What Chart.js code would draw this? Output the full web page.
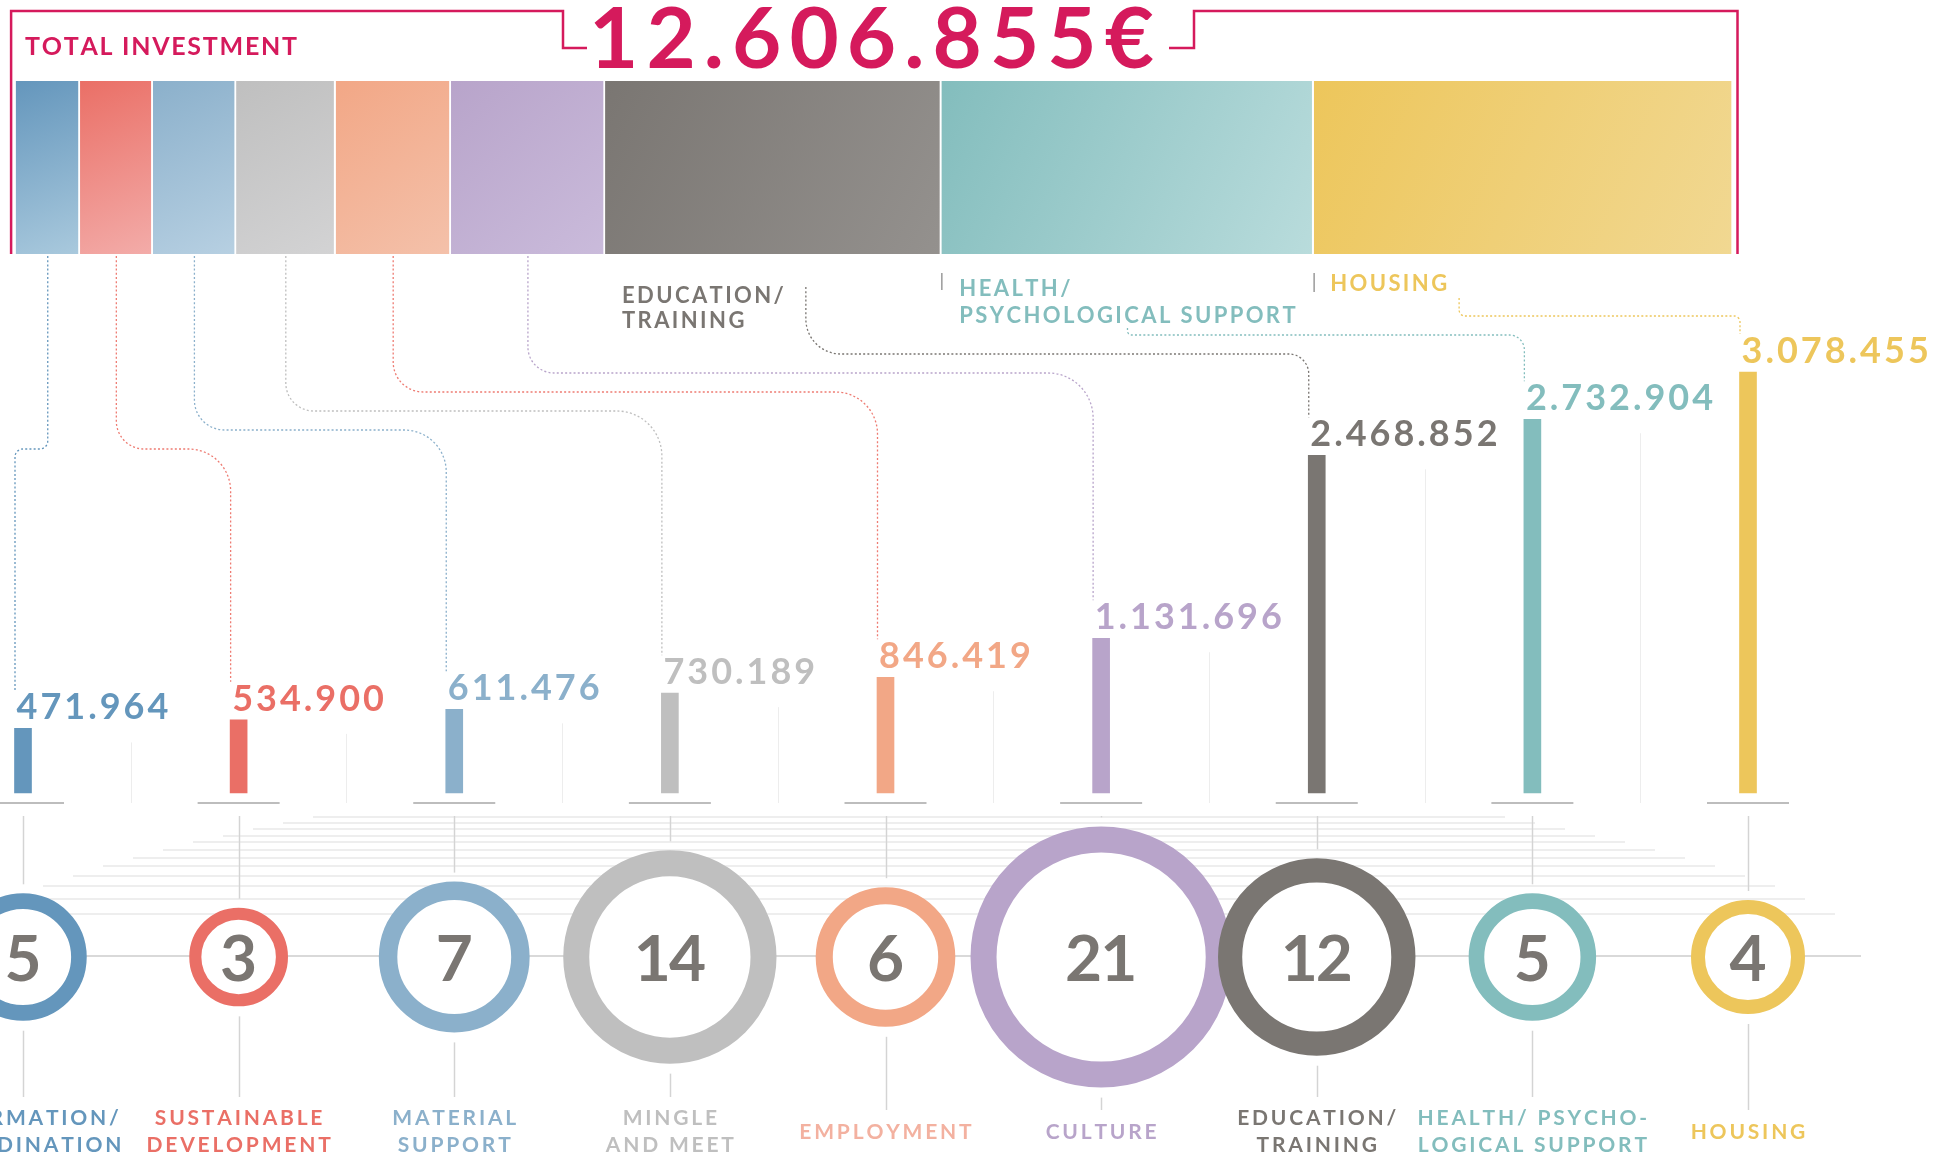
<!DOCTYPE html>
<html>
<head>
<meta charset="utf-8">
<title>Total investment</title>
<script src="https://cdn.jsdelivr.net/npm/chart.js@4.4.1/dist/chart.umd.min.js"></script>
<style>
  html, body { margin: 0; padding: 0; background: #fff; overflow: hidden; }
  #wrap { position: relative; width: 1959px; height: 1159px; }
  canvas { position: absolute; left: 0; top: 0; }
</style>
</head>
<body>
<div id="wrap">
  <canvas id="mainChart" width="1959" height="1159"></canvas>
  <canvas id="topChart" width="1959" height="1159"></canvas>
</div>
<script>
// data
const categories = [
  ["INFORMATION/", "COORDINATION"],
  ["SUSTAINABLE", "DEVELOPMENT"],
  ["MATERIAL", "SUPPORT"],
  ["MINGLE", "AND MEET"],
  ["EMPLOYMENT"],
  ["CULTURE"],
  ["EDUCATION/", "TRAINING"],
  ["HEALTH/ PSYCHO-", "LOGICAL SUPPORT"],
  ["HOUSING"],
];
const investment = [471964, 534900, 611476, 730189, 846419, 1131696, 2468852, 2732904, 3078455];
const projects = [5, 3, 7, 14, 6, 21, 12, 5, 4];
const segmentLabels = [null, null, null, null, null, null,
  ["EDUCATION/", "TRAINING"], ["HEALTH/", "PSYCHOLOGICAL SUPPORT"], ["HOUSING"]];
const totalTitle = "TOTAL INVESTMENT";

// styles
const colors = ["#6496BC", "#EA6F66", "#8BB0CB", "#BFBFBF", "#F2A786", "#B8A4CA", "#7A7672", "#83BDBD", "#EDC65B"];
const lightColors = ["#A9C9DD", "#F3ACA9", "#B7D0E2", "#D3D3D4", "#F4C1AA", "#CABBDB", "#94918E", "#B9DCDC", "#F1D892"];
const labelColors = ["#6496BC", "#EA6F66", "#8BB0CB", "#BFBFBF", "#F3B1A0", "#B8A4CA", "#7A7672", "#83BDBD", "#EDC65B"];
const linkColors = ["#6496BC", "#EE7B72", "#8BB0CB", "#BFBFBF", "#EE7B72", "#B8A4CA", "#7A7672", "#83BDBD", "#EDC65B"];
const PINK = "#D51A5C";
const INK = "#7A7672";
const FONT = "Lato, 'Open Sans', sans-serif";

// layout
const W = 1959, H = 1159;
const BAR_BASE = 793;
const EURO_PER_PX = 7312;
const RING_ROW = 957;
const AXIS_LEFT = 23, AXIS_RIGHT = 1748;
const TOP_BOX = { left: 15.6, right: 1733, top: 81, bottom: 254 };
const floorRows = [817, 823, 829, 836, 842, 850, 858, 866, 876, 886, 899, 914];
const links = [
  { level: 449, r1: 8, r2: 8 },
  { level: 449, r1: 28, r2: 42 },
  { level: 430, r1: 30, r2: 42 },
  { level: 411, r1: 28, r2: 45 },
  { level: 392, r1: 30, r2: 42 },
  { level: 373, r1: 26, r2: 45 },
  { level: 354, r1: 35, r2: 20 },
  { level: 335, r1: 4, r2: 15 },
  { level: 316, r1: 6, r2: 6 },
];

const fmt = (v) => String(v).replace(/\B(?=(\d{3})+(?!\d))/g, ".");
const total = investment.reduce((a, b) => a + b, 0);
const ringOuter = (n) => 28.5 * Math.sqrt(n);
const ringWidth = (n) => Math.min(0.245 * ringOuter(n), 26);

function spacedWidth(ctx, text, spacing) {
  const chars = [...text];
  return chars.reduce((s, c) => s + ctx.measureText(c).width, 0) + spacing * (chars.length - 1);
}

function spaced(ctx, text, x, y, spacing, align) {
  const chars = [...text];
  const total = spacedWidth(ctx, text, spacing);
  let cx = align === "center" ? x - total / 2 : align === "right" ? x - total : x;
  ctx.textAlign = "left";
  chars.forEach((c) => {
    ctx.fillText(c, cx, y);
    cx += ctx.measureText(c).width + spacing;
  });
  return total;
}

function fitted(ctx, text, x, y, width) {
  const n = [...text].length;
  const natural = spacedWidth(ctx, text, 0);
  const spacing = (width - natural) / (n - 1);
  spaced(ctx, text, x, y, spacing, "left");
}

function line(ctx, x1, y1, x2, y2) {
  ctx.beginPath();
  ctx.moveTo(x1, y1);
  ctx.lineTo(x2, y2);
  ctx.stroke();
}

const mainDecor = {
  id: "mainDecor",
  beforeDatasetsDraw(chart) {
    const ctx = chart.ctx;
    const bars = chart.getDatasetMeta(0).data;
    const rings = chart.getDatasetMeta(1).data;
    ctx.save();
    // floor lines
    ctx.strokeStyle = "#E9E9E9";
    ctx.lineWidth = 1.5;
    floorRows.forEach((y, k) => line(ctx, 313 - 30 * k, y, 1505 + 30 * k, y));
    ctx.strokeStyle = "#D9D9D9";
    ctx.lineWidth = 2;
    line(ctx, -46, RING_ROW - 1, 1861, RING_ROW - 1);
    // faint separators between bars
    ctx.strokeStyle = "#EDEDED";
    ctx.lineWidth = 1;
    for (let i = 0; i < bars.length - 1; i++) {
      const x = Math.round((bars[i].x + bars[i + 1].x) / 2) + 0.5;
      line(ctx, x, bars[i].y + 14, x, BAR_BASE + 10);
    }
    // base segments
    ctx.strokeStyle = "#BDBDBD";
    ctx.lineWidth = 2;
    bars.forEach((b) => line(ctx, b.x - 41, BAR_BASE + 10, b.x + 41, BAR_BASE + 10));
    // stems to the rings and labels
    ctx.strokeStyle = "#D4D4D4";
    ctx.lineWidth = 1.5;
    rings.forEach((r, i) => {
      const R = r.options.radius + r.options.borderWidth / 2;
      const x = Math.round(r.x) + 0.5;
      line(ctx, x, BAR_BASE + 23, x, r.y - R - 9);
      line(ctx, x, r.y + R + 10, x, categories[i].length > 1 ? 1097 : 1110);
    });
    ctx.restore();
  },
  afterDatasetsDraw(chart) {
    const ctx = chart.ctx;
    const bars = chart.getDatasetMeta(0).data;
    const rings = chart.getDatasetMeta(1).data;
    ctx.save();
    ctx.textBaseline = "alphabetic";
    // ring numbers
    ctx.font = "bold 64px " + FONT;
    ctx.fillStyle = INK;
    rings.forEach((r, i) => spaced(ctx, String(projects[i]), r.x, r.y + 24, -2, "center"));
    // values above bars
    ctx.font = "bold 36px " + FONT;
    bars.forEach((b, i) => {
      ctx.fillStyle = colors[i];
      spaced(ctx, fmt(investment[i]), b.x - b.width / 2 + 2, b.y - 9, 3, "left");
    });
    // category names
    ctx.font = "bold 21px " + FONT;
    bars.forEach((b, i) => {
      ctx.fillStyle = labelColors[i];
      const lines = categories[i];
      if (lines.length > 1) {
        spaced(ctx, lines[0], b.x, 1125, 2.8, "center");
        spaced(ctx, lines[1], b.x, 1152, 2.8, "center");
      } else {
        spaced(ctx, lines[0], b.x, 1139, 2.8, "center");
      }
    });
    ctx.restore();
  },
};

const mainChart = new Chart(document.getElementById("mainChart"), {
  type: "bar",
  data: {
    labels: categories,
    datasets: [
      {
        type: "bar",
        label: "Investment",
        data: investment,
        backgroundColor: colors,
        barThickness: 17,
        yAxisID: "y",
        clip: false,
      },
      {
        type: "bubble",
        label: "Projects",
        data: projects.map((n, i) => ({ x: i, y: 0, r: ringOuter(n) - ringWidth(n) / 2 })),
        backgroundColor: "#FFFFFF",
        borderColor: colors,
        borderWidth: projects.map(ringWidth),
        hoverRadius: 0,
        yAxisID: "yRing",
        clip: false,
      },
    ],
  },
  options: {
    responsive: false,
    animation: false,
    events: [],
    layout: { autoPadding: false, padding: { left: AXIS_LEFT, right: W - AXIS_RIGHT, top: 0, bottom: 0 } },
    plugins: { legend: { display: false }, tooltip: { enabled: false } },
    scales: {
      x: { type: "category", offset: false, display: false },
      y: { display: false, min: -(H - BAR_BASE) * EURO_PER_PX, max: BAR_BASE * EURO_PER_PX },
      yRing: { display: false, min: -(H - RING_ROW) / RING_ROW, max: 1 },
    },
  },
  plugins: [mainDecor],
});

function segmentGradient(ctx, i) {
  const chart = ctx.chart;
  const area = chart.chartArea;
  if (!area || !chart.scales.x) return colors[i];
  const start = investment.slice(0, i).reduce((a, b) => a + b, 0);
  const x0 = chart.scales.x.getPixelForValue(start);
  const x1 = chart.scales.x.getPixelForValue(start + investment[i]);
  const g = chart.ctx.createLinearGradient(x0, area.top, x1, area.bottom);
  g.addColorStop(0, colors[i]);
  g.addColorStop(1, lightColors[i]);
  return g;
}

function roundedLink(ctx, sx, sy, level, tx, ty, r1, r2) {
  ctx.beginPath();
  ctx.moveTo(sx, sy);
  ctx.arcTo(sx, level, tx, level, r1);
  ctx.arcTo(tx, level, tx, ty, r2);
  ctx.lineTo(tx, ty);
  ctx.stroke();
}

const topDecor = {
  id: "topDecor",
  afterDraw(chart) {
    const ctx = chart.ctx;
    const area = chart.chartArea;
    const segs = investment.map((_, i) => chart.getDatasetMeta(i).data[0]);
    ctx.save();
    ctx.textBaseline = "alphabetic";

    // big number and frame
    const numText = fmt(total) + "€";
    const numLeft = 589, numWidth = 565;
    ctx.font = "bold 85px " + FONT;
    ctx.fillStyle = PINK;
    fitted(ctx, numText, numLeft, 68, numWidth);
    ctx.font = "bold 25px " + FONT;
    fitted(ctx, totalTitle, 25, 55, 272);

    ctx.strokeStyle = PINK;
    ctx.lineWidth = 2.5;
    ctx.lineJoin = "miter";
    const fl = area.left - 4.5, fr = area.right + 4.5, ft = 11;
    ctx.beginPath();
    ctx.moveTo(fl, area.bottom);
    ctx.lineTo(fl, ft);
    ctx.lineTo(numLeft - 26, ft);
    ctx.lineTo(numLeft - 26, 48);
    ctx.lineTo(numLeft - 2, 48);
    ctx.stroke();
    ctx.beginPath();
    ctx.moveTo(numLeft + numWidth + 15, 48);
    ctx.lineTo(numLeft + numWidth + 40, 48);
    ctx.lineTo(numLeft + numWidth + 40, ft);
    ctx.lineTo(fr, ft);
    ctx.lineTo(fr, area.bottom);
    ctx.stroke();

    // labels under the big segments
    const starts = [];
    ctx.font = "bold 22px " + FONT;
    // education
    let left = segs[6].base + 17;
    ctx.fillStyle = labelColors[6];
    const eduW = Math.max(
      spaced(ctx, segmentLabels[6][0], left, 303, 2.4, "left"),
      spaced(ctx, segmentLabels[6][1], left, 328, 2.4, "left")
    );
    starts[6] = { x: left + eduW + 22, y: 287 };
    // health
    ctx.strokeStyle = "#9A9A9A";
    ctx.lineWidth = 1.5;
    line(ctx, segs[7].base + 0.5, 273, segs[7].base + 0.5, 290);
    left = segs[7].base + 18;
    ctx.fillStyle = labelColors[7];
    spaced(ctx, segmentLabels[7][0], left, 296, 2.4, "left");
    const healthW = spaced(ctx, segmentLabels[7][1], left, 323, 2.4, "left");
    starts[7] = { x: left + healthW / 2, y: 328 };
    // housing
    line(ctx, segs[8].base + 0.5, 273, segs[8].base + 0.5, 292);
    left = segs[8].base + 16.5;
    ctx.fillStyle = labelColors[8];
    const houseW = spaced(ctx, segmentLabels[8][0], left, 291, 2.4, "left");
    starts[8] = { x: left + houseW + 12, y: 298 };

    // dotted links from the total bar to each value
    const bars = mainChart.getDatasetMeta(0).data;
    ctx.lineWidth = 1.3;
    ctx.setLineDash([2, 2.2]);
    links.forEach((lk, i) => {
      const s = starts[i] || { x: (segs[i].base + segs[i].x) / 2, y: area.bottom + 2 };
      const b = bars[i];
      const tx = b.x - b.width / 2 + 0.5;
      ctx.strokeStyle = linkColors[i];
      roundedLink(ctx, s.x, s.y, lk.level, tx, b.y - 38, lk.r1, lk.r2);
    });
    ctx.restore();
  },
};

const topChart = new Chart(document.getElementById("topChart"), {
  type: "bar",
  data: {
    labels: [totalTitle],
    datasets: investment.map((v, i) => ({
      label: categories[i].join(" "),
      data: [v],
      backgroundColor: (ctx) => segmentGradient(ctx, i),
      borderColor: "#FFFFFF",
      borderWidth: { left: 0, right: 2, top: 0, bottom: 0 },
      borderSkipped: false,
      barPercentage: 1,
      categoryPercentage: 1,
    })),
  },
  options: {
    indexAxis: "y",
    responsive: false,
    animation: false,
    events: [],
    layout: {
      autoPadding: false,
      padding: { left: TOP_BOX.left, right: W - TOP_BOX.right, top: TOP_BOX.top, bottom: H - TOP_BOX.bottom },
    },
    plugins: { legend: { display: false }, tooltip: { enabled: false } },
    scales: {
      x: { stacked: true, min: 0, max: total, display: false },
      y: { stacked: true, display: false },
    },
  },
  plugins: [topDecor],
});
</script>
</body>
</html>
